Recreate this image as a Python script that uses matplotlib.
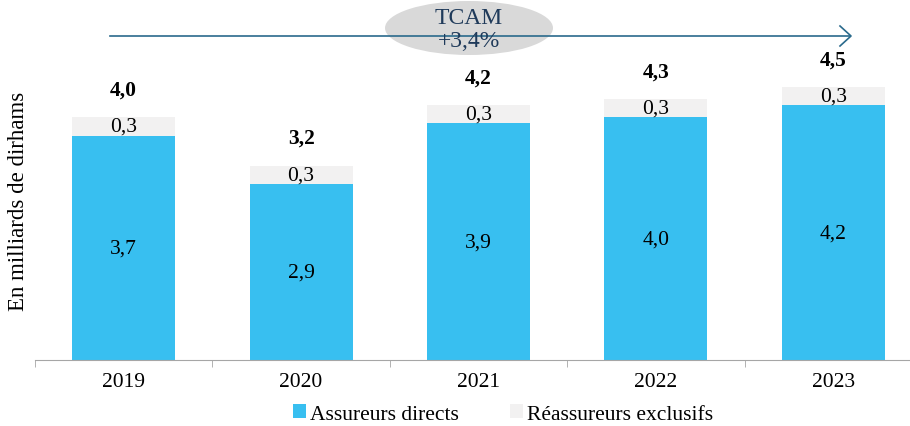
import numpy as np
import matplotlib.pyplot as plt
from matplotlib.patches import Ellipse

plt.rcParams['font.family'] = ['Liberation Serif', 'DejaVu Serif']

years = ['2019', '2020', '2021', '2022', '2023']
directs = [3.7, 2.9, 3.9, 4.0, 4.2]
reass = [0.3, 0.3, 0.3, 0.3, 0.3]
totals = ['4,0', '3,2', '4,2', '4,3', '4,5']
directs_lbl = ['3,7', '2,9', '3,9', '4,0', '4,2']
reass_lbl = ['0,3', '0,3', '0,3', '0,3', '0,3']

blue = '#38BFF0'
grey = '#F2F1F1'

fig = plt.figure(figsize=(9.1, 4.27), dpi=100)
# axes runs off the right edge, like the original
ax = fig.add_axes([35/910, 66/427, 887/910, 361/427])

x = np.arange(len(years))
w = 0.58
b1 = ax.bar(x, directs, w, color=blue, label='Assureurs directs')
b2 = ax.bar(x, reass, w, bottom=directs, color=grey, label='Réassureurs exclusifs')

for i in range(len(years)):
    ax.text(x[i], directs[i] / 2, directs_lbl[i], ha='center', va='center', fontsize=15.5)
    ax.text(x[i], directs[i] + reass[i] / 2, reass_lbl[i], ha='center', va='center', fontsize=15.5)
    ax.annotate(totals[i], (x[i], directs[i] + reass[i]), xytext=(0, 20),
                textcoords='offset points', ha='center', va='center',
                fontsize=15.5, fontweight='bold')

ax.set_xlim(-0.5, 4.5)
ax.set_ylim(0, 5.95)
ax.set_xticks(x)
ax.set_xticklabels(years, fontsize=15.5)
ax.set_xticks(np.arange(-0.5, 5, 1), minor=True)
ax.tick_params(axis='x', which='major', length=0, pad=9)
ax.tick_params(axis='x', which='minor', length=5, color='#A6A6A6')
ax.set_yticks([])
for s in ['top', 'right', 'left']:
    ax.spines[s].set_visible(False)
ax.spines['bottom'].set_color('#A6A6A6')

fig.text(19/910, 1 - 201/427, 'En milliards de dirhams', rotation=90,
         ha='center', va='center', fontsize=16.5)

# growth arrow with ellipse
fig.add_artist(plt.Line2D([110/910, 850/910], [1 - 37/427, 1 - 37/427],
                          color='#2A6A8C', lw=1.2))
fig.add_artist(plt.Line2D([840/910, 851/910, 840/910],
                          [1 - 27/427, 1 - 37/427, 1 - 47/427],
                          color='#2A6A8C', lw=1.2))
fig.add_artist(Ellipse((469/910, 1 - 29/427), 168/910, 54/427,
                       facecolor='#D9D9D9', edgecolor='none'))
fig.text(469/910, 1 - 30/427, 'TCAM\n+3,4%', ha='center', va='center',
         fontsize=17, color='#1F3A5A', linespacing=1.1)

ax.legend(loc='center', bbox_to_anchor=(503/910, 12/427), bbox_transform=fig.transFigure,
          ncol=2, frameon=False, fontsize=15.5, handlelength=0.6, handleheight=0.6,
          handletextpad=0.2, columnspacing=2.35)

fig.savefig('out.png', dpi=100)
